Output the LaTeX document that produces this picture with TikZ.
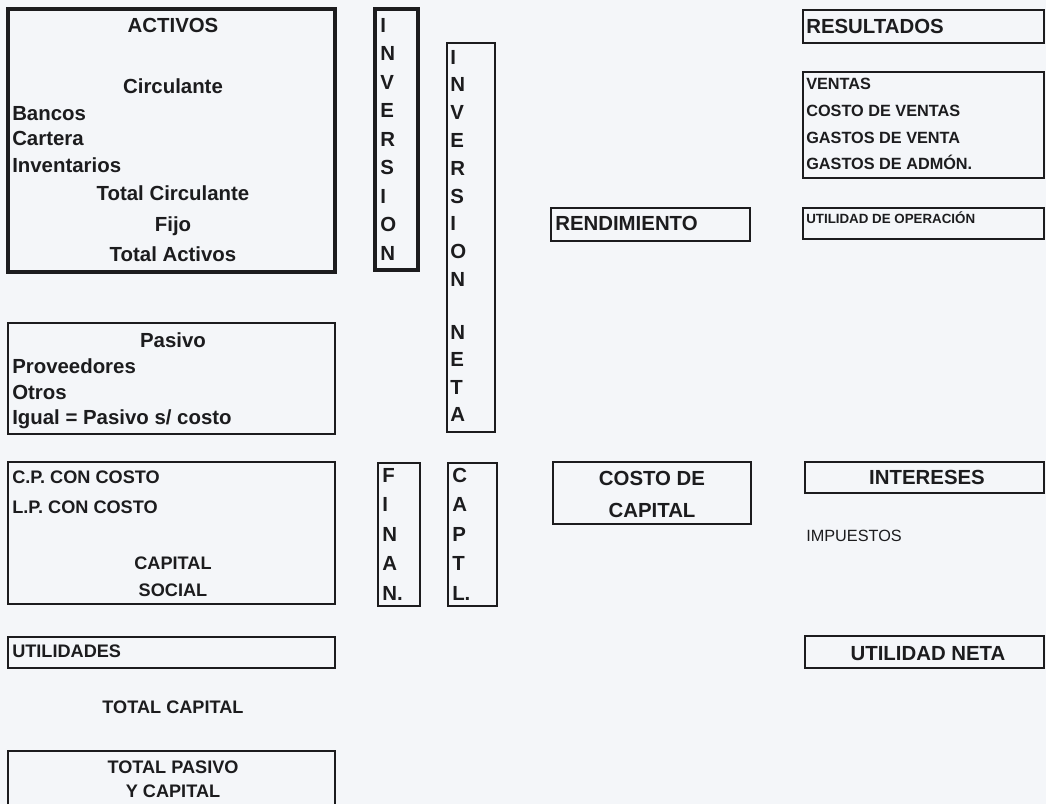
\documentclass[tikz,border=0pt]{standalone}
\usepackage{fontspec}
\setmainfont{Liberation Sans}
\usetikzlibrary{positioning,fit}
\definecolor{ink}{RGB}{28,28,30}
\definecolor{paper}{RGB}{244,246,249}
\newcommand{\fbig}{\fontsize{15.3}{18}\bfseries\selectfont}
\newcommand{\fmed}{\fontsize{13.6}{16}\bfseries\selectfont}
\newcommand{\fsm}{\fontsize{12.2}{14}\bfseries\selectfont}
\newcommand{\ftiny}{\fontsize{10}{12}\bfseries\selectfont}
\newcommand{\freg}{\fontsize{12.2}{14}\selectfont}
\tikzset{
  panel/.style={draw=ink, line width=1.6pt, inner sep=0pt},
  heavy/.style={line width=2.3pt},
  txt/.style={inner sep=0pt, text=ink},
  lw/.style={txt, anchor=base west},
  ctr/.style={txt, anchor=base},
  letter/.style={txt, anchor=base west, font=\fbig},
}
\begin{document}
\begin{tikzpicture}[x=0.75pt,y=-0.75pt]
\fill[paper] (0,0) rectangle (1046,804);
\useasboundingbox (0,0) rectangle (1046,804);

% ---- boxes
\node[panel, heavy, fit={(8,9) (335,272)}] (activos) {};
\node[panel, heavy, fit={(375,9) (418,270)}] (inv1) {};
\node[panel, fit={(447,43) (495,432)}] (inv2) {};
\node[panel, line width=1.9pt, fit={(8,323) (335,434)}] (pasivo) {};
\node[panel, fit={(8,462) (335,604)}] (cp) {};
\node[panel, fit={(378,463) (420,606)}] (finan) {};
\node[panel, fit={(448,463) (497,606)}] (captl) {};
\node[panel, fit={(8,637) (335,668)}] (utilidades) {};
\coordinate (tpA) at (8,804);
\coordinate (tpB) at (8,751);
\coordinate (tpC) at (335,751);
\coordinate (tpD) at (335,804);
\draw[ink, line width=1.6pt] (tpA) -- (tpB) -- (tpC) -- (tpD);
\node[panel, fit={(551,208) (750,241)}] (rend) {};
\node[panel, fit={(553,462) (751,524)}] (costo) {};
\node[panel, fit={(803,10) (1044,43)}] (resultados) {};
\node[panel, fit={(803,72) (1044,178)}] (ventas) {};
\node[panel, fit={(803,208) (1044,239)}] (utop) {};
\node[panel, fit={(805,462) (1044,493)}] (intereses) {};
\node[panel, fit={(805,636) (1044,668)}] (utneta) {};

% ---- ACTIVOS
\node[ctr, font=\fbig] (tact) at (173,32) {ACTIVOS};
\node[ctr, font=\fbig] (tcirc) at (173,93) {Circulante};
\node[lw, font=\fbig] (tban) at (12,120) {Bancos};
\node[lw, font=\fbig] (tcar) at (12,145) {Cartera};
\node[lw, font=\fbig] (tinv) at (12,172) {Inventarios};
\node[ctr, font=\fbig] (ttc) at (173,200) {Total Circulante};
\node[ctr, font=\fbig] (tfij) at (173,231) {Fijo};
\node[ctr, font=\fbig] (tta) at (173,261) {Total Activos};

% ---- INVERSION (column 1)
\foreach \ch [count=\i from 0] in {I,N,V,E,R,S,I,O,N}
  \node[letter] (ia\i) at (380,{32+28.5*\i}) {\ch};
% ---- INVERSION NETA (column 2)
\foreach \ch [count=\i from 0] in {I,N,V,E,R,S,I,O,N}
  \node[letter] (ib\i) at (450,{64+27.8*\i}) {\ch};
\foreach \ch [count=\i from 10] in {N,E,T,A}
  \node[letter] (ib\i) at (450,{64+27.5*\i}) {\ch};

% ---- PASIVO
\node[ctr, font=\fbig] (tpas) at (173,347) {Pasivo};
\node[lw, font=\fbig] (tprov) at (12,373) {Proveedores};
\node[lw, font=\fbig] (totr) at (12,399) {Otros};
\node[lw, font=\fbig] (tigu) at (12,424) {Igual = Pasivo s/ costo};

% ---- C.P.
\node[lw, font=\fmed] (tcp) at (12,483.5) {C.P. CON COSTO};
\node[lw, font=\fmed] (tlp) at (12,513.5) {L.P. CON COSTO};
\node[ctr, font=\fmed] (tcap) at (173,569.5) {CAPITAL};
\node[ctr, font=\fmed] (tsoc) at (173,596.5) {SOCIAL};

% ---- FINAN. / CAPTL.
\foreach \ch [count=\i from 0] in {F,I,N,A,N.}
  \node[letter] (fa\i) at (382,{482+29.5*\i}) {\ch};
\foreach \ch [count=\i from 0] in {C,A,P,T,L.}
  \node[letter] (ca\i) at (452,{482+29.5*\i}) {\ch};

% ---- bottom left
\node[lw, font=\fmed] (tutil) at (12,657.5) {UTILIDADES};
\node[ctr, font=\fmed] (ttcap) at (173,713.5) {TOTAL CAPITAL};
\node[ctr, font=\fmed] (ttpas) at (173,773.5) {TOTAL PASIVO};
\node[ctr, font=\fmed] (tycap) at (173,797.5) {Y CAPITAL};

% ---- middle
\node[lw, font=\fbig] (trend) at (555,230.5) {RENDIMIENTO};
\node[ctr, font=\fbig] (tcosto) at (652,485) {COSTO DE};
\node[ctr, font=\fbig] (tcapi) at (652,517) {CAPITAL};

% ---- right column
\node[lw, font=\fbig] (tres) at (806,33.5) {RESULTADOS};
\node[lw, font=\fsm] (tven) at (806,89) {VENTAS};
\node[lw, font=\fsm] (tcv) at (806,116) {COSTO DE VENTAS};
\node[lw, font=\fsm] (tgv) at (806,143) {GASTOS DE VENTA};
\node[lw, font=\fsm] (tga) at (806,169) {GASTOS DE ADMÓN.};
\node[lw, font=\ftiny] (tuo) at (806,223) {UTILIDAD DE OPERACIÓN};
\node[ctr, font=\fbig] (tint) at (927,484.5) {INTERESES};
\node[lw, font=\freg] (timp) at (806,541) {IMPUESTOS};
\node[ctr, font=\fbig] (tun) at (928,660) {UTILIDAD NETA};
\end{tikzpicture}
\end{document}
